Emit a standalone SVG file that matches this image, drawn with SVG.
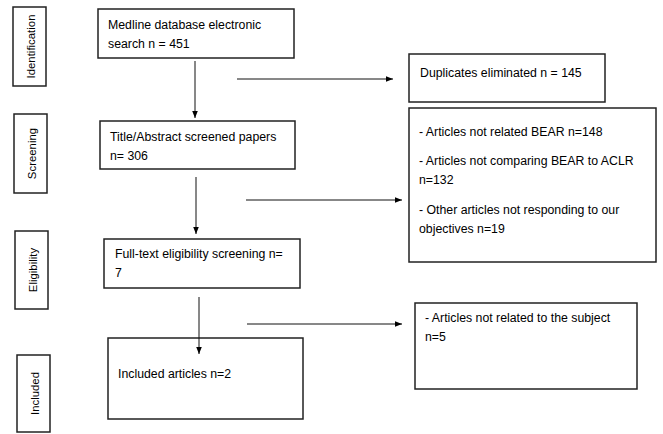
<svg xmlns="http://www.w3.org/2000/svg" width="663" height="434" viewBox="0 0 663 434">
<defs>
<marker id="ah" viewBox="0 0 10 10" refX="10" refY="5" markerWidth="7" markerHeight="7" markerUnits="userSpaceOnUse" orient="auto">
<path d="M0,1 L10,5 L0,9 Z" fill="#000"/>
</marker>
</defs>
<style>
.box{fill:#fff;stroke:#222;stroke-width:1.5}
.t{font-family:"Liberation Sans",Arial,sans-serif;font-size:12.3px;fill:#000}
.lab{font-family:"Liberation Sans",Arial,sans-serif;font-size:11.4px;fill:#000;text-anchor:middle}
.c{stroke:#111;stroke-width:1;fill:none;marker-end:url(#ah)}
</style>
<rect width="663" height="434" fill="#fff"/>
<g id="stage-identification"><rect class="box" x="13" y="7" width="33" height="79"/><text class="lab" transform="translate(34.5,46.5) rotate(-90)">Identification</text></g>
<g id="stage-screening"><rect class="box" x="14" y="114" width="33" height="79"/><text class="lab" transform="translate(35.5,153.5) rotate(-90)">Screening</text></g>
<g id="stage-eligibility"><rect class="box" x="15" y="231" width="33" height="78"/><text class="lab" transform="translate(36.5,270) rotate(-90)">Eligibility</text></g>
<g id="stage-included"><rect class="box" x="17" y="355" width="33" height="77"/><text class="lab" transform="translate(38.5,393.5) rotate(-90)">Included</text></g>
<g id="n-medline"><rect class="box" x="98" y="9" width="196" height="49"/><text class="t" x="108" y="29">Medline database electronic</text><text class="t" x="108" y="48">search n = 451</text></g>
<g id="n-duplicates"><rect class="box" x="409" y="54" width="196" height="48"/><text class="t" x="420" y="77">Duplicates eliminated n = 145</text></g>
<g id="n-title"><rect class="box" x="100" y="121" width="195" height="48"/><text class="t" x="110" y="141">Title/Abstract screened papers</text><text class="t" x="110" y="160">n= 306</text></g>
<g id="n-excluded1"><rect class="box" x="409" y="108" width="247" height="154"/><text class="t" x="419" y="136">- Articles not related BEAR n=148</text><text class="t" x="419" y="165">- Articles not comparing BEAR to ACLR</text><text class="t" x="419" y="184">n=132</text><text class="t" x="419" y="214">- Other articles not responding to our</text><text class="t" x="419" y="233">objectives n=19</text></g>
<g id="n-fulltext"><rect class="box" x="104" y="239" width="196" height="49"/><text class="t" x="115" y="258">Full-text eligibility screening n=</text><text class="t" x="115" y="277">7</text></g>
<g id="n-excluded2"><rect class="box" x="415" y="303" width="222" height="86"/><text class="t" x="425" y="322">- Articles not related to the subject</text><text class="t" x="425" y="341">n=5</text></g>
<g id="n-included"><rect class="box" x="108" y="338" width="195" height="81"/><text class="t" x="118" y="378">Included articles n=2</text></g>
<g id="connectors">
<line class="c" x1="195" y1="61" x2="195" y2="118"/>
<line class="c" x1="237" y1="79" x2="393" y2="79"/>
<line class="c" x1="196" y1="177" x2="196" y2="234"/>
<line class="c" x1="246" y1="200" x2="402" y2="200"/>
<line class="c" x1="199" y1="297" x2="199" y2="354"/>
<line class="c" x1="247" y1="324" x2="402" y2="324"/>
</g>
</svg>
